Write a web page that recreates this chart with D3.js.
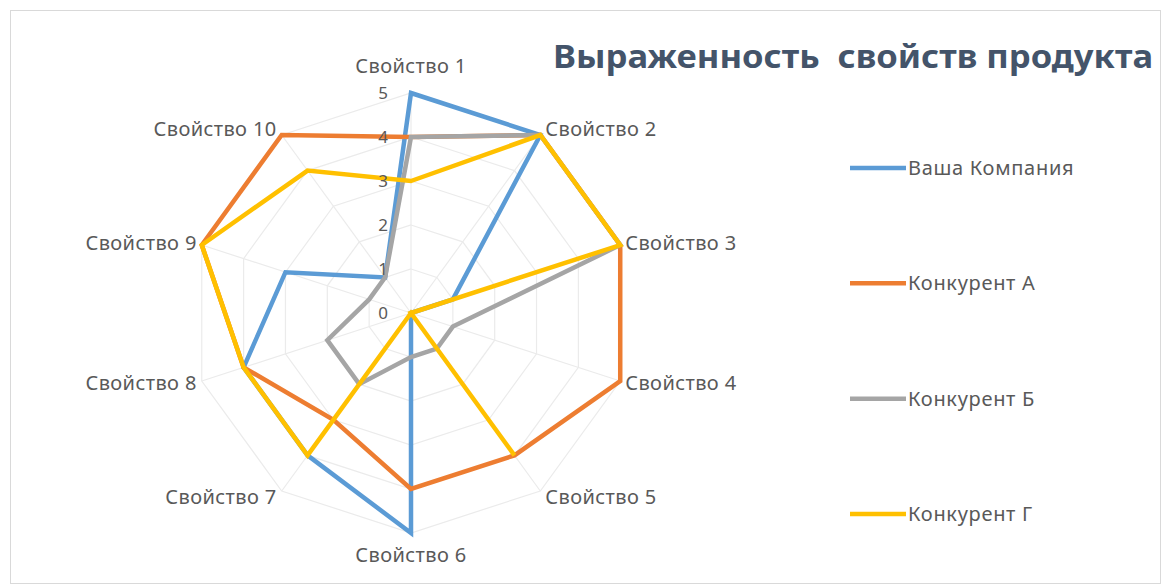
<!DOCTYPE html>
<html>
<head>
<meta charset="utf-8">
<title>Выраженность свойств продукта</title>
<script src="https://d3js.org/d3.v7.min.js"></script>
<style>
  body { margin: 0; background: #fff; }
  text { font-family: "Noto Sans", "DejaVu Sans", sans-serif; }
</style>
</head>
<body>
<div id="chart"></div>
<script>
// данные
var categories = ["Свойство 1", "Свойство 2", "Свойство 3", "Свойство 4", "Свойство 5",
                  "Свойство 6", "Свойство 7", "Свойство 8", "Свойство 9", "Свойство 10"];
var seriesNames = ["Ваша Компания", "Конкурент А", "Конкурент Б", "Конкурент Г"];
var ourCompany = [5, 5, 1, 0, 0, 5, 4, 4, 3, 1];
var rivalA     = [4, 5, 5, 5, 4, 4, 3, 4, 5, 5];
var rivalB     = [4, 5, 5, 1, 1, 1, 2, 2, 1, 1];
var rivalG     = [3, 5, 5, 0, 4, 0, 4, 4, 5, 4];
var tickValues = [0, 1, 2, 3, 4, 5];
var titleText = "Выраженность  свойств продукта";

var colors = ["#5b9bd5", "#ed7d31", "#a5a5a5", "#ffc000"];
var allSeries = [ourCompany, rivalA, rivalB, rivalG];

var width = 1168, height = 584;
var cx = 411, cy = 313;

var svg = d3.select("#chart").append("svg")
    .attr("width", width)
    .attr("height", height);

// рамка области диаграммы
svg.append("rect")
    .attr("x", 10.5).attr("y", 10.5)
    .attr("width", 1150).attr("height", 573)
    .attr("fill", "#fff")
    .attr("stroke", "#d9d9d9");

var r = d3.scaleLinear().domain([0, 5]).range([0, 220]);
var angle = d3.scaleLinear().domain([0, categories.length]).range([0, 2 * Math.PI]);

var g = svg.append("g").attr("transform", "translate(" + cx + "," + cy + ")");

function px(i, v) { return r(v) * Math.sin(angle(i)); }
function py(i, v) { return -r(v) * Math.cos(angle(i)); }

// сетка
tickValues.slice(1).forEach(function(t) {
    g.append("path")
        .attr("d", d3.lineRadial()
            .angle(function(d, i) { return angle(i); })
            .radius(function() { return r(t); })
            .curve(d3.curveLinearClosed)(categories))
        .attr("fill", "none")
        .attr("stroke", "#ebebeb")
        .attr("stroke-width", 1.2);
});
g.selectAll("line.spoke")
    .data(categories)
    .enter().append("line")
    .attr("class", "spoke")
    .attr("x1", 0).attr("y1", 0)
    .attr("x2", function(d, i) { return px(i, 5); })
    .attr("y2", function(d, i) { return py(i, 5); })
    .attr("stroke", "#ebebeb")
    .attr("stroke-width", 1.2);

// линии серий
var radar = d3.lineRadial()
    .angle(function(d, i) { return angle(i); })
    .radius(function(d) { return r(d); })
    .curve(d3.curveLinearClosed);

g.selectAll("path.series")
    .data(allSeries)
    .enter().append("path")
    .attr("class", "series")
    .attr("d", radar)
    .attr("fill", "none")
    .attr("stroke", function(d, i) { return colors[i]; })
    .attr("stroke-width", 4.5)
    .attr("stroke-linejoin", "miter");

// подписи шкалы
g.selectAll("text.tick")
    .data(tickValues)
    .enter().append("text")
    .attr("class", "tick")
    .attr("x", -23)
    .attr("y", function(d) { return -r(d); })
    .attr("dy", "0.35em")
    .attr("text-anchor", "end")
    .attr("fill", "#595959")
    .attr("font-size", "17px")
    .text(function(d) { return d; });

// подписи категорий
g.selectAll("text.cat")
    .data(categories)
    .enter().append("text")
    .attr("class", "cat")
    .attr("x", function(d, i) {
        var s = Math.sin(angle(i));
        return px(i, 5) + (Math.abs(s) < 0.01 ? 0 : (s > 0 ? 5 : -5));
    })
    .attr("y", function(d, i) {
        var s = Math.sin(angle(i)), c = Math.cos(angle(i));
        return py(i, 5) - c * (Math.abs(s) < 0.01 ? (c > 0 ? 27 : 22) : 7);
    })
    .attr("dy", "0.35em")
    .attr("text-anchor", function(d, i) {
        var s = Math.sin(angle(i));
        return Math.abs(s) < 0.01 ? "middle" : (s > 0 ? "start" : "end");
    })
    .attr("fill", "#595959")
    .attr("font-size", "20px")
    .attr("letter-spacing", "0.4px")
    .text(function(d) { return d; });

// заголовок
svg.append("text")
    .attr("x", 553)
    .attr("y", 68)
    .attr("fill", "#44546a")
    .attr("font-size", "33px")
    .attr("font-weight", "bold")
    .attr("textLength", 600)
    .attr("lengthAdjust", "spacingAndGlyphs")
    .style("white-space", "pre")
    .text(titleText);

// легенда
var legendY = d3.scalePoint().domain(seriesNames).range([168, 514]);
var legend = svg.selectAll("g.legend")
    .data(seriesNames)
    .enter().append("g")
    .attr("class", "legend")
    .attr("transform", function(d) { return "translate(850," + legendY(d) + ")"; });
legend.append("line")
    .attr("x1", 0).attr("x2", 56)
    .attr("stroke", function(d, i) { return colors[i]; })
    .attr("stroke-width", 4.5);
legend.append("text")
    .attr("x", 58)
    .attr("dy", "0.35em")
    .attr("fill", "#595959")
    .attr("font-size", "20px")
    .attr("letter-spacing", "0.7px")
    .text(function(d) { return d; });
</script>
</body>
</html>
